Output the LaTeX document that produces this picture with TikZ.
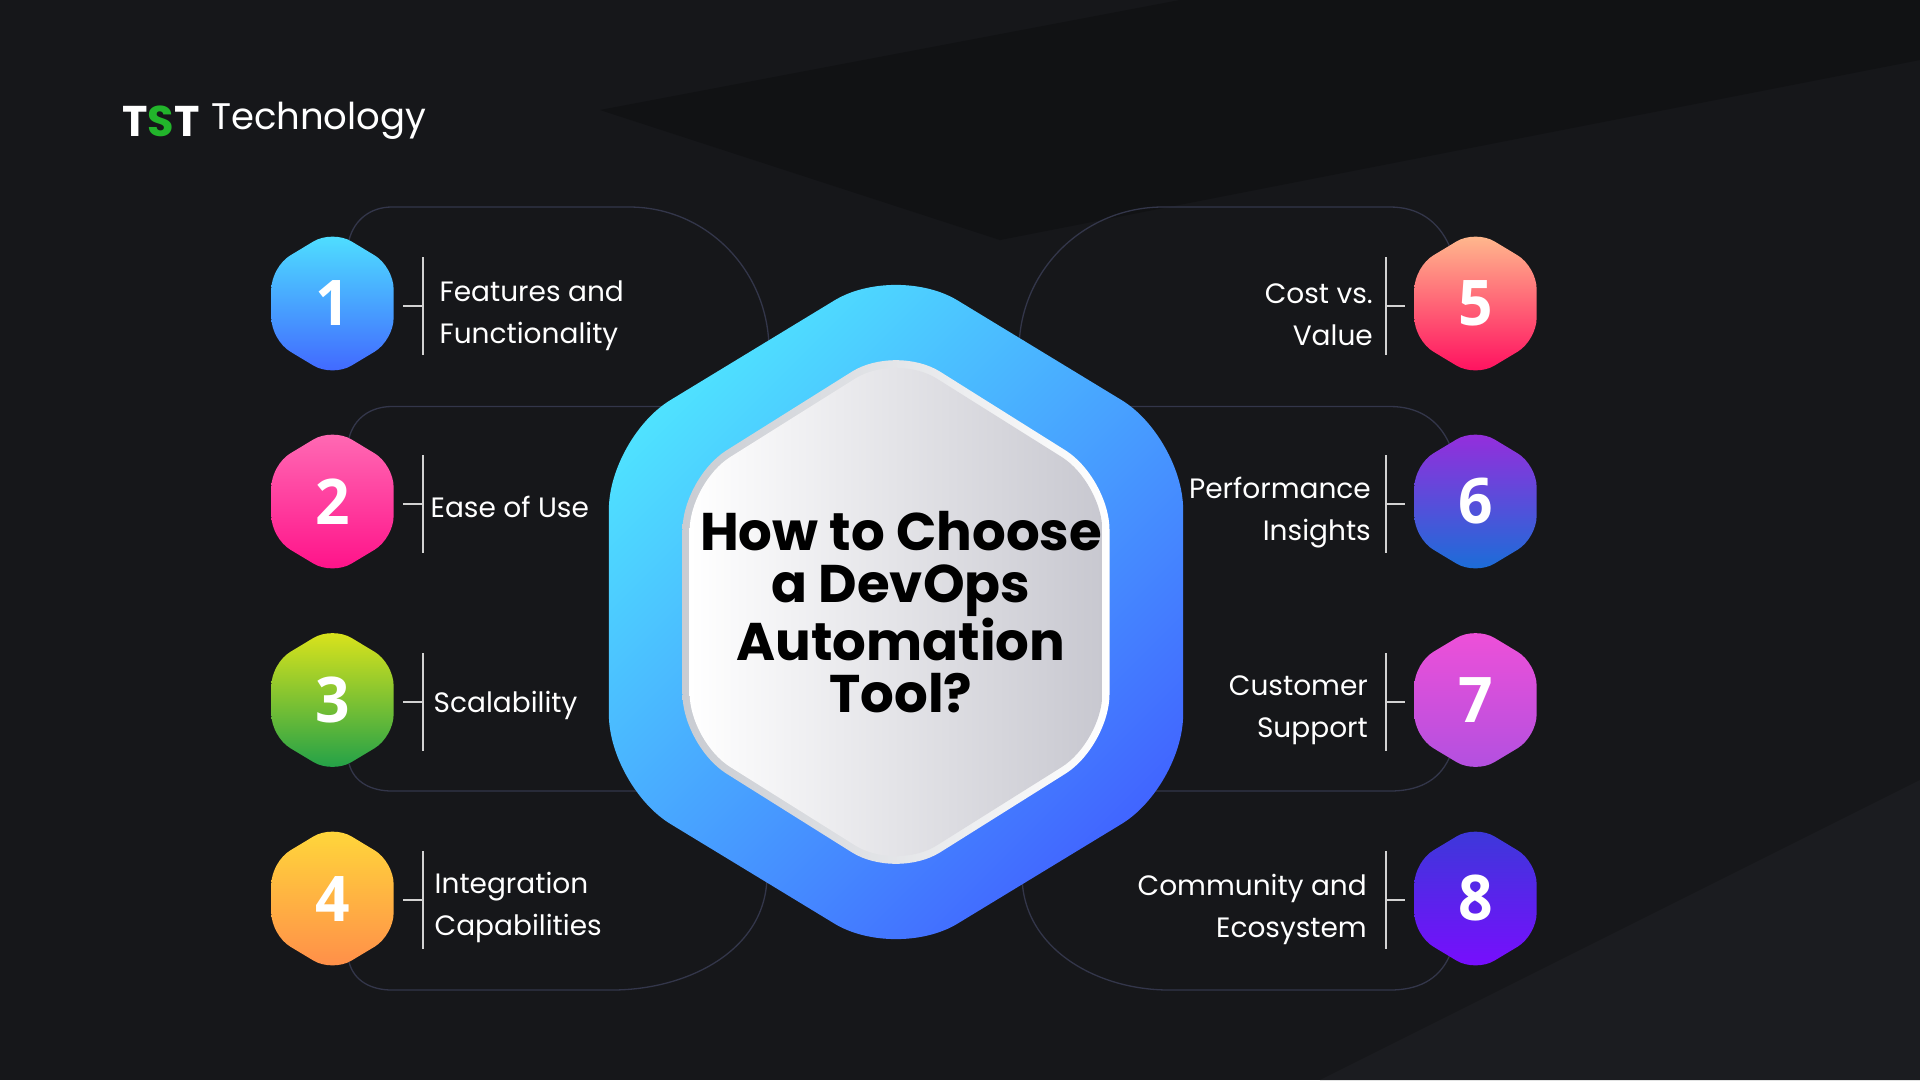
\documentclass[tikz,border=0pt]{standalone}
\usepackage{fontspec}
\setmainfont{Poppins}
\newfontfamily\digitfont{Open Sans}
\usetikzlibrary{shapes.geometric,positioning,backgrounds}
\definecolor{pagebg}{HTML}{16171A}
\definecolor{bandlight}{HTML}{1B1C20}
\definecolor{banddark}{HTML}{111214}
\definecolor{loopgray}{HTML}{33364A}
\definecolor{tickgray}{HTML}{D2D2D2}
\definecolor{cyantop}{HTML}{4FE3FF}
\definecolor{bluebot}{HTML}{4164FF}
\definecolor{logogreen}{HTML}{22B52B}
\definecolor{ringgray}{HTML}{C9CCD2}
\definecolor{facegray}{HTML}{C8C8D0}
\definecolor{twotop}{HTML}{FF6DB5}
\definecolor{twobot}{HTML}{FF0F88}
\definecolor{threetop}{HTML}{E2E61A}
\definecolor{threemid}{HTML}{80C830}
\definecolor{threebot}{HTML}{1B9E4A}
\definecolor{fourtop}{HTML}{FFD93A}
\definecolor{fourbot}{HTML}{FF8C4A}
\definecolor{fivetop}{HTML}{FFBF8F}
\definecolor{fivemid}{HTML}{FF6A80}
\definecolor{fivebot}{HTML}{FF0A5E}
\definecolor{sixtop}{HTML}{9A2BDC}
\definecolor{sixbot}{HTML}{1670D8}
\definecolor{seventop}{HTML}{F050D8}
\definecolor{sevenbot}{HTML}{B050E0}
\definecolor{eighttop}{HTML}{3A3AD8}
\definecolor{eightbot}{HTML}{7A0CFF}
\tikzset{
  hexbadge/.style={regular polygon,regular polygon sides=6,shape border rotate=30,
    minimum size=147pt,inner sep=0pt,outer sep=0pt,rounded corners=22pt,
    xscale=.96,transform shape,text=white,font=\digitfont\bfseries\fontsize{63}{63}\selectfont},
  bighex/.style={regular polygon,regular polygon sides=6,shape border rotate=30,
    inner sep=0pt,outer sep=0pt,transform shape},
  bracketbar/.style={fill=tickgray,minimum width=2pt,minimum height=98pt,inner sep=0pt,outer sep=0pt},
  tickline/.style={draw=tickgray,line width=2pt,shorten >=9pt},
  looppath/.style={draw=loopgray,line width=1.3pt},
  rowtext/.style={text=white,inner sep=0pt,font=\fontsize{28}{42}\selectfont}
}
\begin{document}
\begin{tikzpicture}[x=1pt,y=-1pt]
  \useasboundingbox (0,0) rectangle (1920,1080);
  % centre
  \node[bighex,minimum size=698pt,rounded corners=72pt,xscale=.95,top color=cyantop,bottom color=bluebot,shading angle=45] (outerhex) at (896,612) {};
  \node[bighex,minimum size=536pt,rounded corners=52pt,xscale=.92,left color=ringgray,right color=white] (ringhex) at (896,612) {};
  \node[bighex,minimum size=518pt,rounded corners=48pt,xscale=.92,left color=white,right color=facegray] (innerhex) at (896,612) {};
  \node[font=\bfseries\fontsize{53}{52}\selectfont,align=center,inner sep=0pt,text=black] (title) at (901,612) {How to Choose\\a DevOps\\Automation\\Tool?};
  % logo
  \node[font=\bfseries\fontsize{43}{43}\selectfont,text=white,inner sep=0pt] (logo) at (161,121) {T\textcolor{logogreen}{S}T};
  \node[font=\fontsize{37}{37}\selectfont,text=white,inner sep=0pt,anchor=west] (brand) at (211,121) {Technology};
  % left side
  \node[hexbadge,top color=cyantop,bottom color=bluebot] (hexone) at (332.5,303.5) {1};
  \node[hexbadge,top color=twotop,bottom color=twobot] (hextwo) at (332.5,501.5) {2};
  \node[hexbadge,top color=threetop,middle color=threemid,bottom color=threebot] (hexthree) at (332.5,700) {3};
  \node[hexbadge,top color=fourtop,bottom color=fourbot] (hexfour) at (332.5,898.5) {4};
  % right side
  \node[hexbadge,top color=fivetop,middle color=fivemid,bottom color=fivebot] (hexfive) at (1475.5,303.5) {5};
  \node[hexbadge,top color=sixtop,bottom color=sixbot] (hexsix) at (1475.5,501.5) {6};
  \node[hexbadge,top color=seventop,bottom color=sevenbot] (hexseven) at (1475.5,700) {7};
  \node[hexbadge,top color=eighttop,bottom color=eightbot] (hexeight) at (1475.5,898.5) {8};
  % brackets
  \node[bracketbar] (barone) at (422.5,305.5) {};
  \node[bracketbar] (bartwo) at (422.5,503.5) {};
  \node[bracketbar] (barthree) at (422.5,701.5) {};
  \node[bracketbar] (barfour) at (422.5,900) {};
  \node[bracketbar] (barfive) at (1386,305.5) {};
  \node[bracketbar] (barsix) at (1386,503.5) {};
  \node[bracketbar] (barseven) at (1386,701.5) {};
  \node[bracketbar] (bareight) at (1386,900) {};
  \draw[tickline] (barone.west) -- (barone.west -| hexone.east);
  \draw[tickline] (bartwo.west) -- (bartwo.west -| hextwo.east);
  \draw[tickline] (barthree.west) -- (barthree.west -| hexthree.east);
  \draw[tickline] (barfour.west) -- (barfour.west -| hexfour.east);
  \draw[tickline] (barfive.east) -- (barfive.east -| hexfive.west);
  \draw[tickline] (barsix.east) -- (barsix.east -| hexsix.west);
  \draw[tickline] (barseven.east) -- (barseven.east -| hexseven.west);
  \draw[tickline] (bareight.east) -- (bareight.east -| hexeight.west);
  % labels
  \node[rowtext,align=left,right=16pt of barone,yshift=-10pt] (textone) {Features and\\Functionality};
  \node[rowtext,align=left,right=7pt of bartwo,yshift=-3pt] (texttwo) {Ease of Use};
  \node[rowtext,align=left,right=10pt of barthree,yshift=-4pt] (textthree) {Scalability};
  \node[rowtext,align=left,right=11pt of barfour,yshift=-7pt] (textfour) {Integration\\Capabilities};
  \node[rowtext,align=right,left=12pt of barfive,yshift=-9pt] (textfive) {Cost vs.\\Value};
  \node[rowtext,align=right,left=14pt of barsix,yshift=-9pt] (textsix) {Performance\\Insights};
  \node[rowtext,align=right,left=17pt of barseven,yshift=-9pt] (textseven) {Customer\\Support};
  \node[rowtext,align=right,left=18pt of bareight,yshift=-9pt] (texteight) {Community and\\Ecosystem};
  \begin{scope}[on background layer]
    \fill[pagebg] (0,0) rectangle (1920,1080);
    \fill[banddark] (600,110) -- (1180,0) -- (1920,0) -- (1920,60) -- (1000,240) -- cycle;
    \fill[bandlight] (1320,1080) -- (1920,780) -- (1920,1080) -- cycle;
    % loops
    \coordinate (onea) at (392,207);
    \coordinate (oneb) at (629,207);
    \coordinate (onec) at (769,350);
    \coordinate (twoa) at (392,406.5);
    \coordinate (threea) at (392,791);
    \coordinate (foura) at (392,990);
    \coordinate (fourb) at (612,990);
    \coordinate (fourc) at (767,875);
    \coordinate (fivea) at (1390,207);
    \coordinate (fiveb) at (1163,207);
    \coordinate (fivec) at (1019,350);
    \coordinate (sixa) at (1390,406.5);
    \coordinate (sevena) at (1390,791);
    \coordinate (eighta) at (1390,990);
    \coordinate (eightb) at (1169,990);
    \coordinate (eightc) at (1022,875);
    \draw[looppath] (hexone) to[out=75,in=180] (onea) -- (oneb) to[out=0,in=90] (onec) -- (outerhex);
    \draw[looppath] (hextwo) to[out=75,in=180] (twoa) -- (twoa -| outerhex);
    \draw[looppath] (hexthree) to[out=-75,in=180] (threea) -- (threea -| outerhex);
    \draw[looppath] (hexfour) to[out=-75,in=180] (foura) -- (fourb) to[out=0,in=-90] (fourc) -- (outerhex);
    \draw[looppath] (hexfive) to[out=115,in=0] (fivea) -- (fiveb) to[out=180,in=90] (fivec) -- (outerhex);
    \draw[looppath] (hexsix) to[out=115,in=0] (sixa) -- (sixa -| outerhex);
    \draw[looppath] (hexseven) to[out=-115,in=0] (sevena) -- (sevena -| outerhex);
    \draw[looppath] (hexeight) to[out=-115,in=0] (eighta) -- (eightb) to[out=180,in=-90] (eightc) -- (outerhex);
  \end{scope}
\end{tikzpicture}
\end{document}
